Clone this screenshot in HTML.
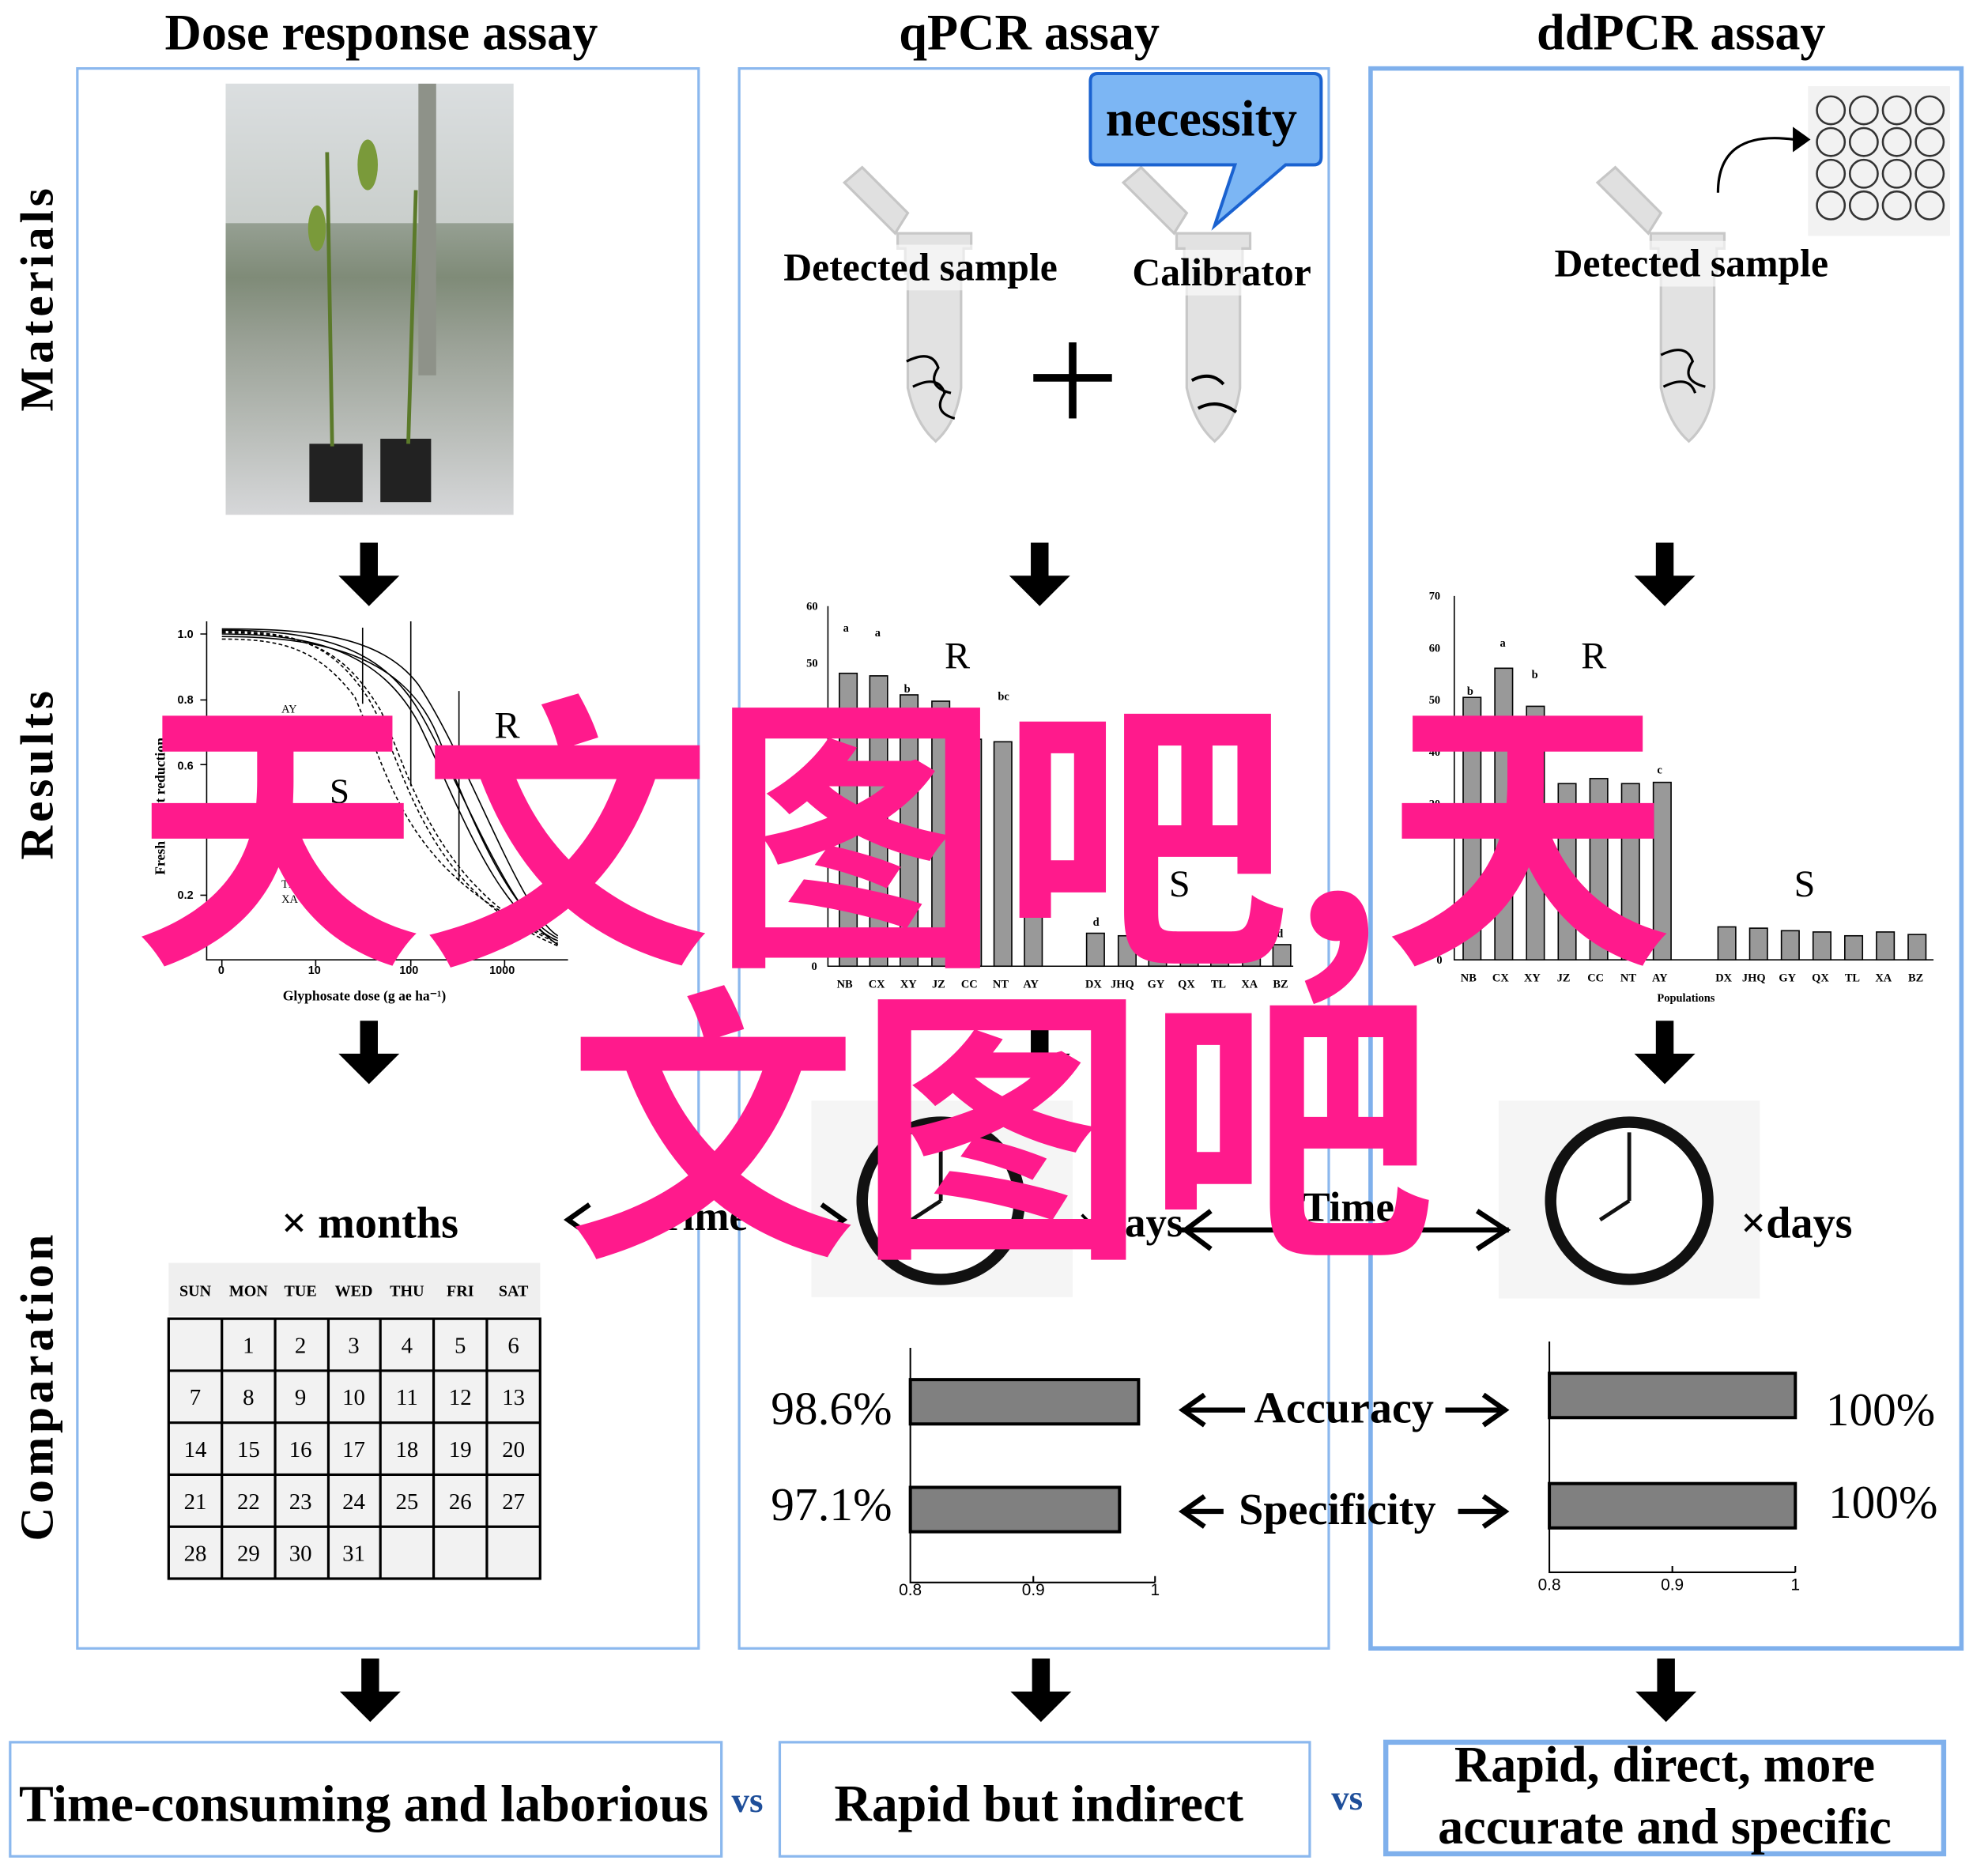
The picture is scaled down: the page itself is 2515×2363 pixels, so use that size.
<!DOCTYPE html>
<html><head><meta charset="utf-8">
<style>
html,body{margin:0;padding:0;background:#fff;}
body{width:2515px;height:2362px;overflow:hidden;position:relative;}
#w{position:absolute;left:0;top:0;width:1568px;height:1473px;transform-origin:0 0;transform:scale(1.604,1.604);font-family:"Liberation Serif",serif;}
.a{position:absolute;}
.t{position:absolute;font-weight:bold;white-space:nowrap;color:#000;}
</style></head><body><div id="w">
<svg class="a" style="left:0;top:0" width="1568" height="1473" viewBox="0 0 1568 1473" font-family="Liberation Serif, serif">
<defs>
<linearGradient id="pg" x1="0" y1="0" x2="0" y2="1"><stop offset="0" stop-color="#cfd4d6"/><stop offset="0.45" stop-color="#7f8b78"/><stop offset="0.6" stop-color="#9aa196"/><stop offset="1" stop-color="#d6d7d9"/></linearGradient>
<g id="arr"><rect x="-7" y="0" width="14" height="28" fill="#000"/><polygon points="-24,26 24,26 0,50" fill="#000"/></g>
<g id="tube"><path d="M-28,52 h58 v12 h-6 v20 h-2 v90 q-4,28 -20,42 q-16,-14 -22,-42 v-90 h-2 v-20 h-6z" fill="#e2e2e2" stroke="#c8c8c8" stroke-width="2"/><path d="M-30,52 l-40,-40 l14,-12 l36,36z" fill="#e0e0e0" stroke="#c6c6c6" stroke-width="2"/></g>
</defs>
<rect x="61" y="54" width="490" height="1246" fill="none" stroke="#8bb8ee" stroke-width="2"/>
<rect x="583" y="54" width="465" height="1246" fill="none" stroke="#8bb8ee" stroke-width="2"/>
<rect x="1081" y="54" width="466" height="1246" fill="none" stroke="#7fb0ec" stroke-width="3.5"/>
<rect x="178" y="66" width="227" height="340" fill="url(#pg)"/>
<rect x="178" y="66" width="227" height="110" fill="#dfe3e4" opacity="0.7"/>
<rect x="330" y="66" width="14" height="230" fill="#8e9289"/>
<rect x="244" y="350" width="42" height="46" fill="#222"/><rect x="300" y="346" width="40" height="50" fill="#222"/>
<path d="M262,352 L258,120 M322,350 L328,150" stroke="#5b7a2a" stroke-width="3"/>
<ellipse cx="290" cy="130" rx="8" ry="20" fill="#7a9a3a"/><ellipse cx="250" cy="180" rx="7" ry="18" fill="#7a9a3a"/>
<use href="#arr" x="291" y="428"/><use href="#arr" x="820" y="428"/><use href="#arr" x="1313" y="428"/>
<use href="#arr" x="291" y="805"/><use href="#arr" x="820" y="805"/><use href="#arr" x="1313" y="805"/>
<use href="#arr" x="292" y="1308"/><use href="#arr" x="821" y="1308"/><use href="#arr" x="1314" y="1308"/>
<use href="#tube" x="736" y="132"/><use href="#tube" x="956" y="132"/><use href="#tube" x="1330" y="132"/>
<path d="M715,285 q20,-10 25,5 q-10,15 10,20 M720,305 q20,-10 25,5 q-10,15 8,20" fill="none" stroke="#000" stroke-width="2"/>
<path d="M940,300 q15,-8 25,3 M945,322 q15,-8 30,3" fill="none" stroke="#000" stroke-width="2.5"/>
<path d="M1310,280 q20,-10 25,5 q-10,15 10,20 M1312,305 q20,-10 25,5" fill="none" stroke="#000" stroke-width="2"/>
<path d="M846,270 v60 M815,298 h62" stroke="#000" stroke-width="6"/>
<path d="M866,58 h170 q6,0 6,6 v60 q0,6 -6,6 h-22 l-56,48 l16,-48 h-108 q-6,0 -6,-6 v-60 q0,-6 6,-6z" fill="#7cb6f4" stroke="#1a62d0" stroke-width="2.5"/>
<rect x="1426" y="68" width="112" height="118" fill="#f2f2f2"/>
<g fill="none" stroke="#333" stroke-width="1.6">
<circle cx="1444" cy="87" r="11"/><circle cx="1470" cy="87" r="11"/><circle cx="1496" cy="87" r="11"/><circle cx="1522" cy="87" r="11"/>
<circle cx="1444" cy="112" r="11"/><circle cx="1470" cy="112" r="11"/><circle cx="1496" cy="112" r="11"/><circle cx="1522" cy="112" r="11"/>
<circle cx="1444" cy="137" r="11"/><circle cx="1470" cy="137" r="11"/><circle cx="1496" cy="137" r="11"/><circle cx="1522" cy="137" r="11"/>
<circle cx="1444" cy="162" r="11"/><circle cx="1470" cy="162" r="11"/><circle cx="1496" cy="162" r="11"/><circle cx="1522" cy="162" r="11"/>
<path d="M1355,152 q0,-50 60,-42" stroke="#000" stroke-width="2"/></g>
<polygon points="1428,110 1414,100 1414,120" fill="#000"/>
<g stroke="#000" fill="none" stroke-width="1">
<path d="M163,490 V757 H448"/>
<path d="M158,500 h5 M158,552 h5 M158,603 h5 M158,655 h5 M158,706 h5 M175,757 v5 M249,757 v5 M324,757 v5 M398,757 v5"/>
<path d="M175,497 C250,497 300,510 330,560 C360,610 400,720 440,745"/>
<path d="M175,500 C250,500 300,515 330,570 C360,630 390,720 440,742"/>
<path d="M175,502 C260,502 320,520 345,580 C370,640 400,720 440,740"/>
<path d="M175,499 C240,499 270,510 300,560 C320,600 340,700 440,744" stroke-dasharray="3,2"/>
<path d="M175,498 C230,498 260,505 290,550 C320,600 330,700 440,746" stroke-dasharray="3,2"/>
<path d="M175,504 C220,504 250,510 280,550 C310,620 320,690 440,742" stroke-dasharray="3,2"/>
<path d="M175,496 C240,496 300,500 330,540 C370,600 410,720 440,738"/>
<path d="M286,495 v60 M324,490 v130 M362,545 v150"/>
</g>
<g font-size="9" font-family="Liberation Sans, sans-serif" font-weight="bold"><text x="140" y="503">1.0</text><text x="140" y="555">0.8</text><text x="140" y="607">0.6</text><text x="140" y="658">0.4</text><text x="140" y="709">0.2</text>
<text x="172" y="768">0</text><text x="243" y="768">10</text><text x="315" y="768">100</text><text x="386" y="768">1000</text></g>
<text x="223" y="789" font-size="11" font-weight="bold">Glyphosate dose (g ae ha⁻¹)</text>
<text x="130" y="690" font-size="11" font-weight="bold" transform="rotate(-90 130 690)">Fresh weight reduction</text>
<text x="390" y="582" font-size="30">R</text><text x="260" y="633" font-size="28">S</text>
<g font-size="9"><text x="222" y="562">AY</text><text x="222" y="700">TL</text><text x="222" y="712">XA</text></g>
<g stroke="#000" stroke-width="1" fill="#999">
<path d="M653,478 V762 H1020" fill="none"/>
<rect x="662" y="531" width="14" height="231"/><rect x="686" y="533" width="14" height="229"/><rect x="710" y="548" width="14" height="214"/><rect x="735" y="553" width="14" height="209"/><rect x="760" y="583" width="14" height="179"/><rect x="784" y="585" width="14" height="177"/><rect x="808" y="600" width="14" height="162"/>
<rect x="857" y="736" width="14" height="26"/><rect x="882" y="738" width="14" height="24"/><rect x="906" y="737" width="14" height="25"/><rect x="931" y="739" width="14" height="23"/><rect x="955" y="737" width="14" height="25"/><rect x="980" y="739" width="14" height="23"/><rect x="1004" y="745" width="14" height="17"/>
</g>
<g font-size="9" font-weight="bold"><text x="636" y="481">60</text><text x="636" y="526">50</text><text x="640" y="765">0</text>
<text x="660" y="779">NB</text><text x="685" y="779">CX</text><text x="710" y="779">XY</text><text x="735" y="779">JZ</text><text x="758" y="779">CC</text><text x="783" y="779">NT</text><text x="807" y="779">AY</text>
<text x="856" y="779">DX</text><text x="876" y="779">JHQ</text><text x="905" y="779">GY</text><text x="929" y="779">QX</text><text x="955" y="779">TL</text><text x="979" y="779">XA</text><text x="1004" y="779">BZ</text>
<text x="665" y="498">a</text><text x="690" y="502">a</text><text x="713" y="546">b</text><text x="787" y="552">bc</text><text x="862" y="730">d</text><text x="1007" y="739">d</text></g>
<text x="745" y="527" font-size="30">R</text><text x="922" y="707" font-size="30">S</text>
<g stroke="#000" stroke-width="1" fill="#999">
<path d="M1147,470 V757 H1525" fill="none"/>
<rect x="1154" y="550" width="14" height="207"/><rect x="1179" y="527" width="14" height="230"/><rect x="1204" y="557" width="14" height="200"/><rect x="1229" y="618" width="14" height="139"/><rect x="1254" y="614" width="14" height="143"/><rect x="1279" y="618" width="14" height="139"/><rect x="1304" y="617" width="14" height="140"/>
<rect x="1355" y="731" width="14" height="26"/><rect x="1380" y="732" width="14" height="25"/><rect x="1405" y="734" width="14" height="23"/><rect x="1430" y="735" width="14" height="22"/><rect x="1455" y="738" width="14" height="19"/><rect x="1480" y="735" width="14" height="22"/><rect x="1505" y="737" width="14" height="20"/>
</g>
<g font-size="9" font-weight="bold"><text x="1127" y="473">70</text><text x="1127" y="514">60</text><text x="1127" y="555">50</text><text x="1127" y="596">40</text><text x="1127" y="637">20</text><text x="1133" y="760">0</text>
<text x="1152" y="774">NB</text><text x="1177" y="774">CX</text><text x="1202" y="774">XY</text><text x="1228" y="774">JZ</text><text x="1252" y="774">CC</text><text x="1278" y="774">NT</text><text x="1303" y="774">AY</text>
<text x="1353" y="774">DX</text><text x="1374" y="774">JHQ</text><text x="1403" y="774">GY</text><text x="1429" y="774">QX</text><text x="1455" y="774">TL</text><text x="1479" y="774">XA</text><text x="1505" y="774">BZ</text>
<text x="1307" y="790">Populations</text><text x="1157" y="548">b</text><text x="1183" y="510">a</text><text x="1208" y="535">b</text><text x="1307" y="610">c</text></g>
<text x="1247" y="527" font-size="30">R</text><text x="1415" y="707" font-size="30">S</text>
<rect x="640" y="868" width="206" height="155" fill="#f5f5f5"/><rect x="1182" y="868" width="206" height="156" fill="#f5f5f5"/>
<circle cx="742" cy="947" r="62" fill="#fff" stroke="#111" stroke-width="9"/>
<circle cx="1285" cy="947" r="62" fill="#fff" stroke="#111" stroke-width="9"/>
<path d="M1285,947 V893 M1285,947 L1262,962" stroke="#111" stroke-width="3"/>
<path d="M742,947 V893 M742,947 L719,962" stroke="#111" stroke-width="3"/>
<path d="M930,970 H1190" stroke="#000" stroke-width="4"/>
<path d="M955,955 L935,970 L955,985 M1165,955 L1188,970 L1165,985" fill="none" stroke="#000" stroke-width="4"/>
<path d="M465,950 L448,962 L465,974 M648,950 L665,962 L648,974" fill="none" stroke="#000" stroke-width="4"/>
<rect x="133" y="996" width="293" height="42" fill="#efefef"/>
<g font-size="12.5" font-weight="bold" text-anchor="middle"><text x="154" y="1022">SUN</text><text x="196" y="1022">MON</text><text x="237" y="1022">TUE</text><text x="279" y="1022">WED</text><text x="321" y="1022">THU</text><text x="363" y="1022">FRI</text><text x="405" y="1022">SAT</text></g>
<rect x="133" y="1040" width="293" height="205" fill="#f2f2f2" stroke="#000" stroke-width="2"/>
<g stroke="#000" stroke-width="2"><path d="M133,1081 H426 M133,1122 H426 M133,1163 H426 M133,1204 H426"/>
<path d="M175,1040 V1245 M217,1040 V1245 M259,1040 V1245 M300,1040 V1245 M342,1040 V1245 M384,1040 V1245"/></g>
<g font-size="18" text-anchor="middle">
<text x="196" y="1067">1</text><text x="237" y="1067">2</text><text x="279" y="1067">3</text><text x="321" y="1067">4</text><text x="363" y="1067">5</text><text x="405" y="1067">6</text>
<text x="154" y="1108">7</text><text x="196" y="1108">8</text><text x="237" y="1108">9</text><text x="279" y="1108">10</text><text x="321" y="1108">11</text><text x="363" y="1108">12</text><text x="405" y="1108">13</text>
<text x="154" y="1149">14</text><text x="196" y="1149">15</text><text x="237" y="1149">16</text><text x="279" y="1149">17</text><text x="321" y="1149">18</text><text x="363" y="1149">19</text><text x="405" y="1149">20</text>
<text x="154" y="1190">21</text><text x="196" y="1190">22</text><text x="237" y="1190">23</text><text x="279" y="1190">24</text><text x="321" y="1190">25</text><text x="363" y="1190">26</text><text x="405" y="1190">27</text>
<text x="154" y="1231">28</text><text x="196" y="1231">29</text><text x="237" y="1231">30</text><text x="279" y="1231">31</text></g>
<g stroke="#000" stroke-width="2.5" fill="#808080">
<rect x="718" y="1088" width="180" height="35"/><rect x="718" y="1173" width="165" height="35"/>
<rect x="1222" y="1083" width="194" height="35"/><rect x="1222" y="1170" width="194" height="35"/></g>
<g stroke="#000" stroke-width="1.3" fill="none"><path d="M718,1063 V1248 H911 M815,1248 v-5 M911,1248 v-5"/>
<path d="M1222,1058 V1240 H1416 M1319,1240 v-5 M1416,1240 v-5"/></g>
<g font-size="13" font-family="Liberation Sans, sans-serif" text-anchor="middle"><text x="718" y="1258">0.8</text><text x="815" y="1258">0.9</text><text x="911" y="1258">1</text>
<text x="1222" y="1254">0.8</text><text x="1319" y="1254">0.9</text><text x="1416" y="1254">1</text></g>
<g fill="none" stroke="#000" stroke-width="4"><path d="M982,1112 H935 M950,1100 L933,1112 L950,1124 M1140,1112 H1185 M1170,1100 L1187,1112 L1170,1124"/>
<path d="M965,1192 H935 M950,1180 L933,1192 L950,1204 M1150,1192 H1185 M1170,1180 L1187,1192 L1170,1204"/></g>
<rect x="8" y="1374" width="561" height="90" fill="none" stroke="#8bb8ee" stroke-width="2"/>
<rect x="615" y="1374" width="418" height="90" fill="none" stroke="#8bb8ee" stroke-width="2"/>
<rect x="1093" y="1374" width="440" height="88" fill="none" stroke="#7fb0ec" stroke-width="4"/>
</svg>
<div class="t" style="left:130px;top:2px;font-size:40px">Dose response assay</div>
<div class="t" style="left:709px;top:2px;font-size:40px">qPCR assay</div>
<div class="t" style="left:1212px;top:2px;font-size:40px">ddPCR assay</div>
<div class="t" style="left:30px;top:235px;font-size:37px;letter-spacing:3px;transform:translate(-50%,-50%) rotate(-90deg)">Materials</div>
<div class="t" style="left:30px;top:610px;font-size:37px;letter-spacing:3px;transform:translate(-50%,-50%) rotate(-90deg)">Results</div>
<div class="t" style="left:30px;top:1093px;font-size:37px;letter-spacing:3px;transform:translate(-50%,-50%) rotate(-90deg)">Comparation</div>
<div class="t" style="left:872px;top:70px;font-size:40px">necessity</div>
<div class="t" style="left:618px;top:193px;font-size:31px;background:rgba(255,255,255,.6)">Detected sample</div>
<div class="t" style="left:893px;top:197px;font-size:31px;background:rgba(255,255,255,.6)">Calibrator</div>
<div class="t" style="left:1226px;top:190px;font-size:31px;background:rgba(255,255,255,.6)">Detected sample</div>
<div class="t" style="left:222px;top:945px;font-size:35px">× months</div>
<div class="t" style="left:517px;top:942px;font-size:33px">Time</div>
<div class="t" style="left:850px;top:947px;font-size:33px">×days</div>
<div class="t" style="left:1027px;top:935px;font-size:33px">Time</div>
<div class="t" style="left:1373px;top:945px;font-size:35px">×days</div>
<div class="t" style="left:608px;top:1090px;font-size:37px;font-weight:normal">98.6%</div>
<div class="t" style="left:608px;top:1166px;font-size:37px;font-weight:normal">97.1%</div>
<div class="t" style="left:1440px;top:1091px;font-size:37px;font-weight:normal">100%</div>
<div class="t" style="left:1442px;top:1164px;font-size:37px;font-weight:normal">100%</div>
<div class="t" style="left:989px;top:1091px;font-size:35px">Accuracy</div>
<div class="t" style="left:977px;top:1171px;font-size:35px">Specificity</div>
<div class="t" style="left:15px;top:1398px;font-size:41px">Time-consuming and laborious</div>
<div class="t" style="left:577px;top:1405px;font-size:28px;color:#1f4f9a">vs</div>
<div class="t" style="left:658px;top:1398px;font-size:41px">Rapid but indirect</div>
<div class="t" style="left:1050px;top:1403px;font-size:28px;color:#1f4f9a">vs</div>
<div class="t" style="left:1093px;width:440px;top:1367px;font-size:40px;text-align:center;line-height:49px">Rapid, direct, more<br>accurate and specific</div>
<div class="t" style="left:105px;top:530px;font-size:228px;line-height:228px;color:#ff1a8c;font-family:'Noto Sans CJK SC',sans-serif;font-weight:bold">天文图吧,天</div>
<div class="t" style="left:448px;top:760px;font-size:228px;line-height:228px;color:#ff1a8c;font-family:'Noto Sans CJK SC',sans-serif;font-weight:bold">文图吧</div>
</div></body></html>
